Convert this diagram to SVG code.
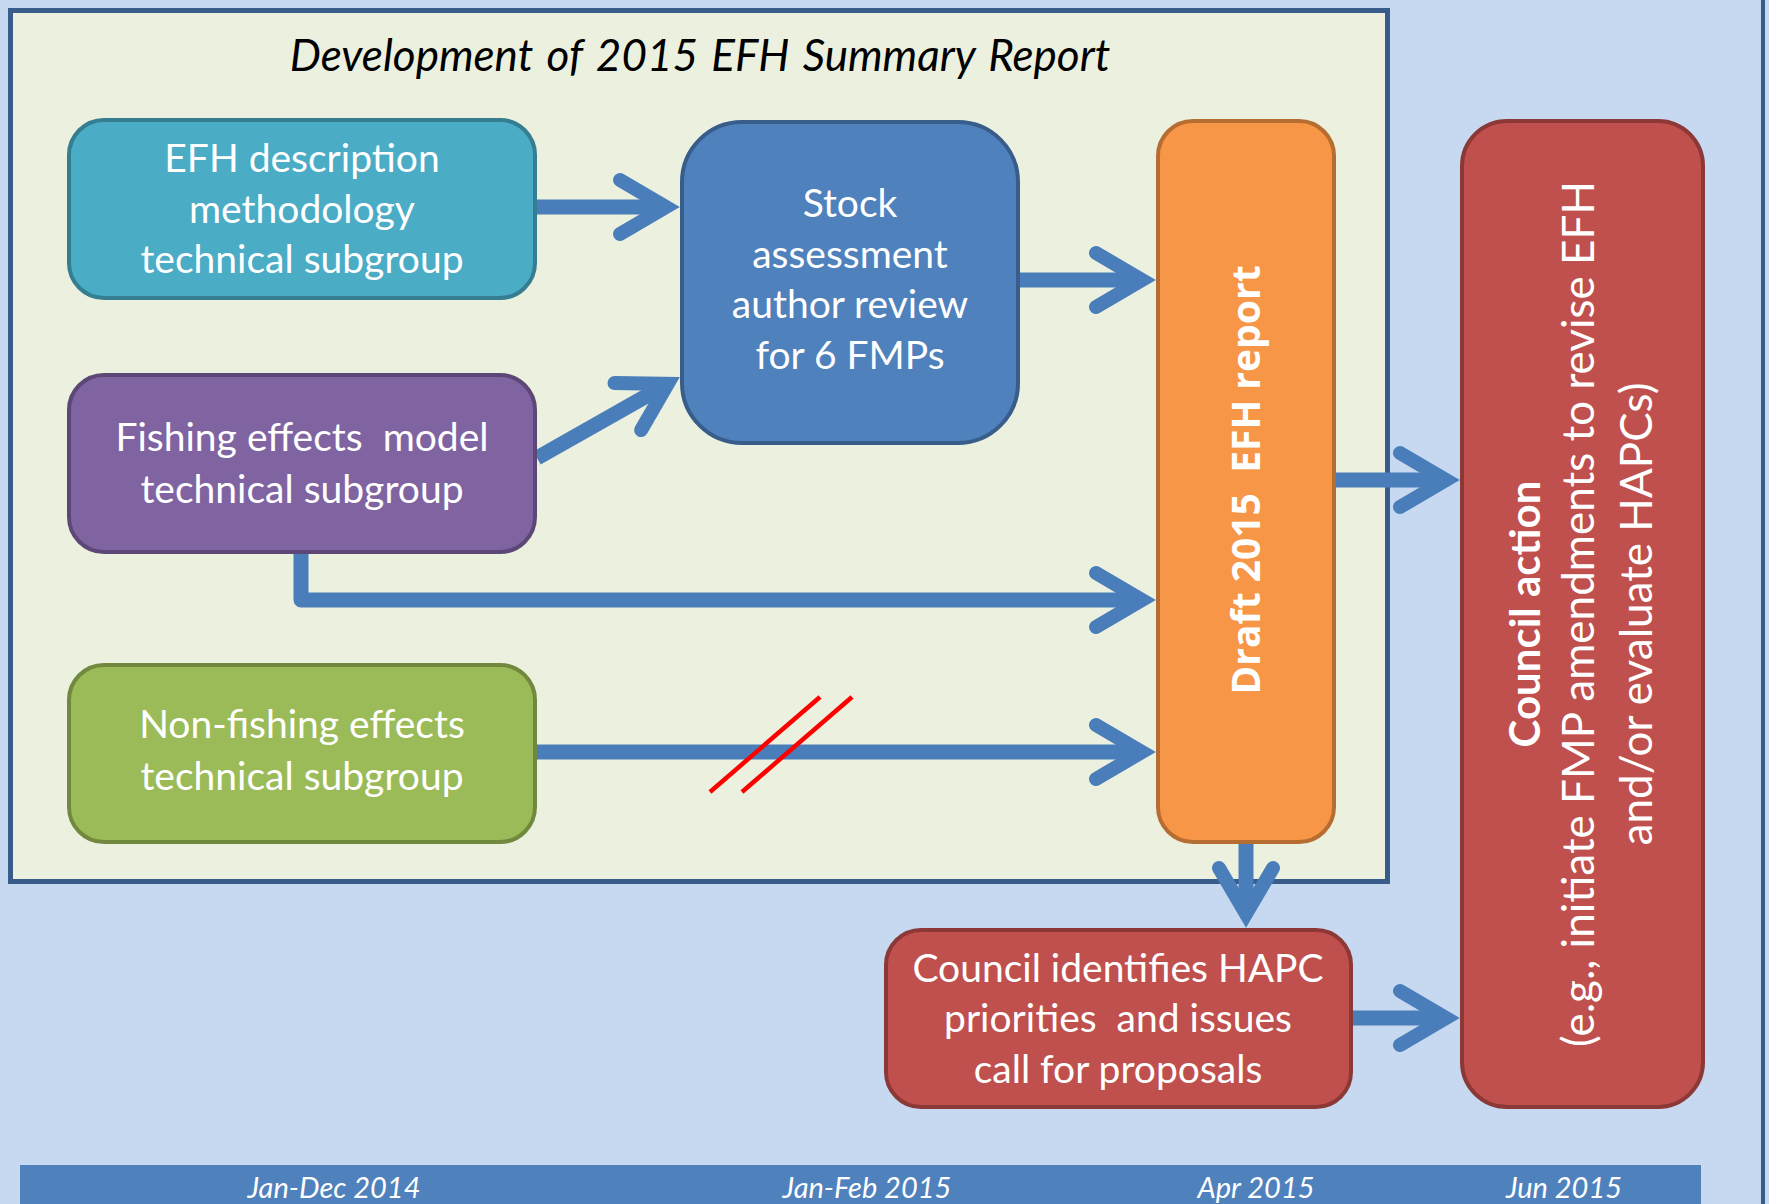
<svg xmlns="http://www.w3.org/2000/svg" width="1769" height="1204" viewBox="0 0 1769 1204">
<style>
.box{stroke-width:4}
.t{font-family:Lato,"Liberation Sans",sans-serif;font-size:39px;fill:#ffffff;text-anchor:middle}
.conn{fill:none;stroke:#4a7ebb;stroke-width:15}
.date{font-family:Lato,"Liberation Sans",sans-serif;font-style:italic;font-size:29px;fill:#ffffff;text-anchor:middle}
.slash{stroke:#ff0000;stroke-width:4.5;fill:none}
</style>
<defs>
<marker id="chev" markerUnits="userSpaceOnUse" orient="auto" refX="-16" refY="0" markerWidth="100" markerHeight="100" overflow="visible">
<path d="M-60,-27 L-14,0 L-60,27" fill="none" stroke="#4a7ebb" stroke-width="14" stroke-linecap="round" stroke-linejoin="miter"/>
</marker>
</defs>
<rect x="0" y="0" width="1769" height="1204" fill="#c6d9f1"/>
<line x1="1763" y1="0" x2="1763" y2="1204" stroke="#385d8a" stroke-width="4"/>
<g id="frame">
<rect x="10.5" y="10.5" width="1377" height="871" fill="#ebf1de" stroke="#385d8a" stroke-width="5"/>
<text x="700" y="71" font-family="Lato,'Liberation Sans',sans-serif" font-style="italic" font-size="44" word-spacing="3" fill="#000000" text-anchor="middle">Development of 2015 EFH Summary Report</text>
</g>
<g id="timeline">
<rect x="20" y="1165" width="1681" height="45" fill="#4f81bd"/>
<text class="date" x="334" y="1198">Jan-Dec 2014</text>
<text class="date" x="867" y="1198">Jan-Feb 2015</text>
<text class="date" x="1256" y="1198">Apr 2015</text>
<text class="date" x="1564" y="1198">Jun 2015</text>
</g>
<g id="connectors">
<path class="conn" d="M536,207 H664" marker-end="url(#chev)"/>
<path class="conn" d="M537,458 L666.1,384.9" marker-end="url(#chev)"/>
<path class="conn" d="M1020,280 H1140" marker-end="url(#chev)"/>
<path class="conn" d="M301,553 V600 H1140" stroke-linejoin="round" marker-end="url(#chev)"/>
<path class="conn" d="M537,752 H1140" marker-end="url(#chev)"/>
<path class="conn" d="M1246,843 V912" marker-end="url(#chev)"/>
<path class="conn" d="M1336,480 H1444" marker-end="url(#chev)"/>
<path class="conn" d="M1353,1018 H1444" marker-end="url(#chev)"/>
<line class="slash" x1="710" y1="792" x2="820" y2="697"/>
<line class="slash" x1="742" y1="792" x2="852" y2="697"/>
</g>
<g id="efh-description">
<rect class="box" x="69" y="120" width="466" height="178" rx="35" fill="#4bacc6" stroke="#357d91"/>
<text class="t" x="302" y="172">EFH description</text>
<text class="t" x="302" y="223">methodology</text>
<text class="t" x="302" y="273">technical subgroup</text>
</g>
<g id="fishing-effects">
<rect class="box" x="69" y="375" width="466" height="177" rx="35" fill="#8064a2" stroke="#5c4776"/>
<text class="t" x="302" y="451" xml:space="preserve">Fishing effects  model</text>
<text class="t" x="302" y="503">technical subgroup</text>
</g>
<g id="non-fishing-effects">
<rect class="box" x="69" y="665" width="466" height="177" rx="35" fill="#9bbb59" stroke="#71893f"/>
<text class="t" x="302" y="738">Non-fishing effects</text>
<text class="t" x="302" y="790">technical subgroup</text>
</g>
<g id="stock-assessment">
<rect class="box" x="682" y="122" width="336" height="321" rx="60" fill="#4f81bd" stroke="#385d8a"/>
<text class="t" x="850" y="217">Stock</text>
<text class="t" x="850" y="268">assessment</text>
<text class="t" x="850" y="318">author review</text>
<text class="t" x="850" y="369">for 6 FMPs</text>
</g>
<g id="draft-report">
<rect class="box" x="1158" y="121" width="176" height="721" rx="35" fill="#f79646" stroke="#b66d31"/>
<text x="1260" y="480" transform="rotate(-90 1260 480)" font-family="'Open Sans','DejaVu Sans',sans-serif" font-weight="bold" font-size="39" fill="#ffffff" text-anchor="middle" xml:space="preserve">Draft 2015  EFH report</text>
</g>
<g id="council-hapc">
<rect class="box" x="886" y="930" width="465" height="177" rx="35" fill="#c0504d" stroke="#8c3836"/>
<text class="t" x="1118" y="982">Council identifies HAPC</text>
<text class="t" x="1118" y="1032" xml:space="preserve">priorities  and issues</text>
<text class="t" x="1118" y="1083">call for proposals</text>
</g>
<g id="council-action">
<rect class="box" x="1462" y="121" width="241" height="986" rx="45" fill="#c0504d" stroke="#8c3836"/>
<text x="1540" y="614" transform="rotate(-90 1540 614)" font-family="Lato,'Liberation Sans',sans-serif" font-weight="bold" font-size="42" fill="#ffffff" text-anchor="middle">Council action</text>
<text x="1594" y="614" transform="rotate(-90 1594 614)" font-family="Lato,'Liberation Sans',sans-serif" font-size="44" fill="#ffffff" text-anchor="middle">(e.g., initiate FMP amendments to revise EFH</text>
<text x="1652" y="614" transform="rotate(-90 1652 614)" font-family="Lato,'Liberation Sans',sans-serif" font-size="44" fill="#ffffff" text-anchor="middle">and/or evaluate HAPCs)</text>
</g>
</svg>
